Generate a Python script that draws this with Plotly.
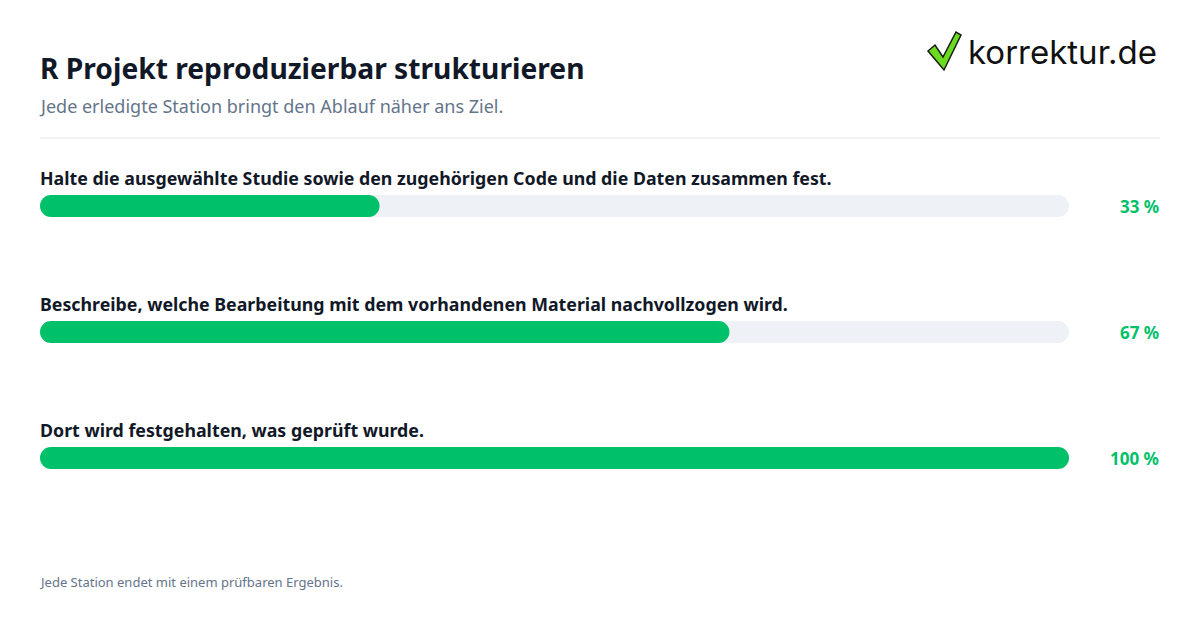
import plotly.graph_objects as go

# ---- data ----
steps = [
    "Halte die ausgewählte Studie sowie den zugehörigen Code und die Daten zusammen fest.",
    "Beschreibe, welche Bearbeitung mit dem vorhandenen Material nachvollzogen wird.",
    "Dort wird festgehalten, was geprüft wurde.",
]
progress = [33, 67, 100]
track_max = [100, 100, 100]

title = "R Projekt reproduzierbar strukturieren"
subtitle = "Jede erledigte Station bringt den Ablauf näher ans Ziel."
footer = "Jede Station endet mit einem prüfbaren Ergebnis."
brand = "korrektur.de"

# ---- layout geometry (pixels, page offset compensated) ----
W, H = 1200, 630
OFF = 8
PW, PH = 1029, 378
ML, MT = 40 - OFF, 143 - OFF
MR = W - ML - PW
MB = H - MT - PH


def px(xp):
    return (xp - OFF - ML) / PW


def py(yp):
    return (H - MB - (yp - OFF)) / PH


FONT = "Noto Sans"
GREEN = "#00C16A"
TRACK = "#EEF2F7"
DARK = "#111827"
MUTED = "#64748B"

ypos = list(range(len(steps)))
bar_px = 22
bar_w = bar_px / (PH / len(steps))
eps = 1e-6  # non-zero base so both bar ends get rounded

fig = go.Figure()
fig.add_trace(go.Bar(
    x=[t - eps for t in track_max], y=ypos, base=eps, orientation="h", width=bar_w,
    marker=dict(color=TRACK, line=dict(width=0)),
    hoverinfo="skip", showlegend=False,
))
fig.add_trace(go.Bar(
    x=[p - eps for p in progress], y=ypos, base=eps, orientation="h", width=bar_w,
    marker=dict(color=GREEN, line=dict(width=0)),
    hoverinfo="skip", showlegend=False,
))

annotations = []
for i, (s, p) in enumerate(zip(steps, progress)):
    annotations.append(dict(
        x=0, y=i, xref="x", yref="y", text=f"<b>{s}</b>", showarrow=False,
        xanchor="left", yanchor="middle", yshift=28, xshift=-2,
        font=dict(family=FONT, size=17.8, color=DARK),
    ))
    annotations.append(dict(
        x=px(1161), y=i, xref="paper", yref="y", text=f"<b>{p} %</b>", showarrow=False,
        xanchor="right", yanchor="middle",
        font=dict(family=FONT, size=17, color=GREEN),
    ))

annotations += [
    dict(x=px(38), y=py(68), xref="paper", yref="paper", text=f"<b>{title}</b>",
         showarrow=False, xanchor="left", yanchor="middle",
         font=dict(family=FONT, size=28.2, color=DARK)),
    dict(x=px(36.5), y=py(106), xref="paper", yref="paper", text=subtitle,
         showarrow=False, xanchor="left", yanchor="middle",
         font=dict(family=FONT, size=18, color=MUTED)),
    dict(x=px(36.5), y=py(582), xref="paper", yref="paper", text=footer,
         showarrow=False, xanchor="left", yanchor="middle",
         font=dict(family=FONT, size=13, color=MUTED)),
    dict(x=px(1159), y=py(52), xref="paper", yref="paper", text=brand,
         showarrow=False, xanchor="right", yanchor="middle",
         font=dict(family="Inter", size=33, color="#111111")),
]

# checkmark logo path
pts = [(928, 51), (935, 45), (943, 57), (956, 32), (961, 35), (944, 70)]
path = "M " + " L ".join(f"{px(a):.5f},{py(b):.5f}" for a, b in pts) + " Z"
shapes = [
    dict(type="path", xref="paper", yref="paper", path=path,
         fillcolor="#6BDB1F", line=dict(color="#1a1a1a", width=1.5)),
    dict(type="line", xref="paper", yref="paper", x0=px(40), x1=px(1160),
         y0=py(138), y1=py(138), line=dict(color="#E5E7EB", width=1)),
]

fig.update_layout(
    width=W, height=H,
    margin=dict(l=ML, r=MR, t=MT, b=MB, pad=0),
    paper_bgcolor="white", plot_bgcolor="white",
    barmode="overlay", barcornerradius=bar_px // 2,
    xaxis=dict(range=[0, 100], visible=False, fixedrange=True),
    yaxis=dict(range=[len(steps) - 0.5, -0.5], visible=False, fixedrange=True),
    annotations=annotations, shapes=shapes,
    showlegend=False,
)

fig.write_html("out.html")
